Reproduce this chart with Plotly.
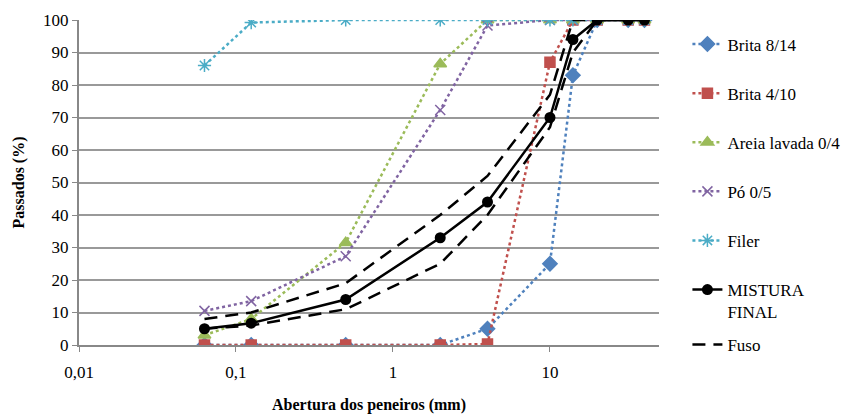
import plotly.graph_objects as go
import math

sieves = [0.063, 0.125, 0.5, 2, 4, 10, 14, 20, 31.5, 40]
brita_8_14 = [0, 0, 0, 0, 5, 25, 83, 100, 100, 100]
brita_4_10 = [0, 0, 0, 0, 0.3, 87, 100, 100, 100, 100]
areia_0_4 = [3, 8, 31.5, 86.5, 100, 100, 100, 100, 100, 100]
po_0_5 = [10.5, 13.5, 27.3, 72.3, 98.3, 100, 100, 100, 100, 100]
filer = [86, 99.2, 100, 100, 100, 100, 100, 100, 100, 100]
mistura = [5, 6.7, 14, 33, 44, 70, 94, 100, 100, 100]
fuso_sup = [8, 10, 19, 40, 52, 77, 100, 100, 100, 100]
fuso_inf = [5, 6, 11, 25, 40, 67, 90, 100, 100, 100]

x_tickvals = [0.01, 0.1, 1, 10]
x_ticktext = ["0,01", "0,1", "1", "10"]

FONT = "Liberation Serif"

fig = go.Figure()

dotted = [
    ("Brita 8/14", brita_8_14, "#4F81BD", "diamond", 11),
    ("Brita 4/10", brita_4_10, "#C0504D", "square", 10),
    ("Areia lavada 0/4", areia_0_4, "#9BBB59", "triangle-up", 11),
    ("Pó 0/5", po_0_5, "#8064A2", "x-thin-open", 10),
    ("Filer", filer, "#4BACC6", "asterisk-open", 11),
]
for i, (name, ys, col, sym, sz) in enumerate(dotted):
    fig.add_trace(go.Scatter(
        x=sieves, y=ys, name=name, mode="lines+markers",
        legendgroup=f"g{i}",
        line=dict(color=col, width=2.5, dash="dot"),
        marker=dict(symbol=sym, size=sz, color=col,
                    line=dict(color=col, width=1.5)),
    ))

fig.add_trace(go.Scatter(
    x=sieves, y=mistura, name="MISTURA<br>FINAL", mode="lines+markers",
    legendgroup="g5",
    line=dict(color="black", width=2.5),
    marker=dict(symbol="circle", size=11, color="black"),
))
fig.add_trace(go.Scatter(
    x=sieves, y=fuso_sup, name="Fuso", mode="lines", legendgroup="g6",
    legend="legend2",
    line=dict(color="black", width=2.5, dash="13px,8px"),
))
fig.add_trace(go.Scatter(
    x=sieves, y=fuso_inf, name="Fuso", mode="lines", legendgroup="g6",
    legend="legend2", showlegend=False,
    line=dict(color="black", width=2.5, dash="13px,8px"),
))

fig.update_layout(
    width=842, height=406,
    margin=dict(l=71, r=191, t=12, b=69, autoexpand=False),
    paper_bgcolor="white", plot_bgcolor="white",
    font=dict(family=FONT, size=17, color="black"),
    showlegend=True,
    legend=dict(
        x=1.049, y=0.98, xanchor="left", yanchor="top",
        font=dict(family=FONT, size=17),
        tracegroupgap=24, traceorder="grouped", valign="top",
        bgcolor="rgba(0,0,0,0)", maxheight=400,
    ),
    legend2=dict(
        x=1.049, y=0.0, xanchor="left", yanchor="middle",
        font=dict(family=FONT, size=17),
        bgcolor="rgba(0,0,0,0)",
    ),
    xaxis=dict(
        type="log", range=[-2, math.log10(49.5)],
        tickvals=x_tickvals, ticktext=x_ticktext,
        tickfont=dict(family=FONT, size=17),
        ticks="outside", ticklen=5, tickcolor="#888888",
        showgrid=False, zeroline=False,
        showline=True, linecolor="#888888", linewidth=2,
        ticklabelstandoff=6,
        title=dict(text="<b>Abertura dos peneiros (mm)</b>",
                   font=dict(family=FONT, size=16), standoff=17),
    ),
    yaxis=dict(
        range=[0, 100], dtick=10,
        tickfont=dict(family=FONT, size=17),
        ticks="outside", ticklen=5, tickcolor="#888888",
        showgrid=True, gridcolor="#999999", gridwidth=1.5,
        zeroline=False,
        showline=True, linecolor="#888888", linewidth=2,
        title=dict(text="<b>Passados (%)</b>",
                   font=dict(family=FONT, size=16), standoff=14),
    ),
)

fig.write_html("out.html")
